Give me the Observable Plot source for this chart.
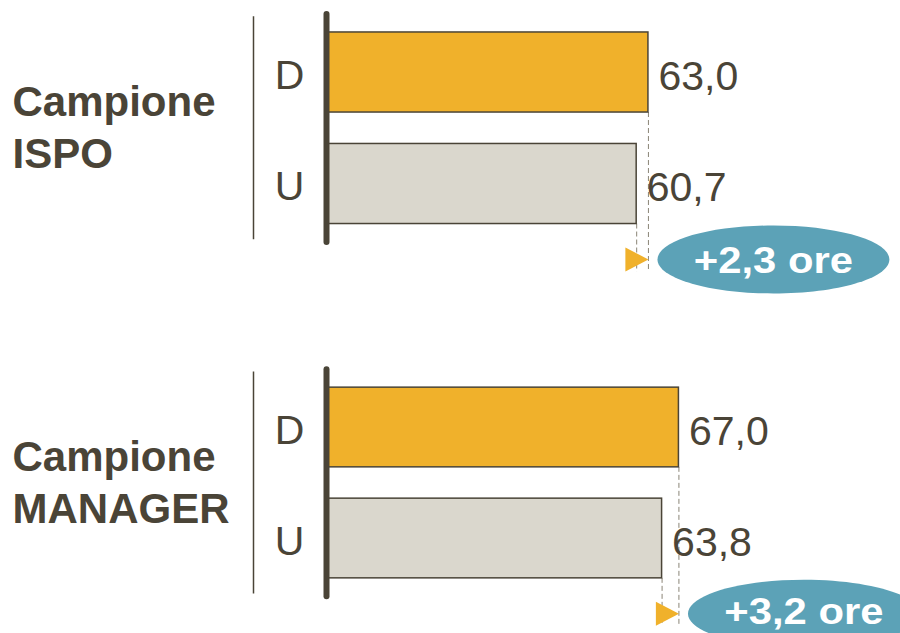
<!DOCTYPE html>
<html>
<head>
<meta charset="utf-8">
<script src="https://cdn.jsdelivr.net/npm/d3@7"></script>
<script src="https://cdn.jsdelivr.net/npm/@observablehq/plot@0.6"></script>
<style>
  html, body { margin: 0; padding: 0; background: #ffffff; overflow: hidden; }
  #chart { width: 900px; height: 633px; overflow: hidden; position: relative; }
  #chart svg { display: block; }
</style>
</head>
<body>
<div id="chart"></div>
<script>
// Weekly working hours by gender (D = donne, U = uomini) in two samples
const samples = ["ISPO", "MANAGER"];
const groups = ["D", "U"];
const ispoHours = [63.0, 60.7];
const managerHours = [67.0, 63.8];

const ink = "#4a4437";
const orange = "#f0b12b";
const stone = "#dad7cd";
const teal = "#5ca2b7";
const font = "'Liberation Sans', Arial, Helvetica, sans-serif";

const fmt = v => d3.format(".1f")(v).replace(".", ",");

// Right-pointing triangle with its tip at the anchor point
const triangleRight = {
  draw(ctx, size) {
    const r = Math.sqrt(size / Math.PI);
    ctx.moveTo(0, 0);
    ctx.lineTo(-1.92 * r, -r);
    ctx.lineTo(-1.92 * r, r);
    ctx.closePath();
  }
};

// Wide ellipse (badge) built from four cubic curves
const badge = {
  draw(ctx, size) {
    const ry = Math.sqrt(size / Math.PI), rx = 3.41 * ry, k = 0.5523;
    ctx.moveTo(-rx, 0);
    ctx.bezierCurveTo(-rx, -k * ry, -k * rx, -ry, 0, -ry);
    ctx.bezierCurveTo(k * rx, -ry, rx, -k * ry, rx, 0);
    ctx.bezierCurveTo(rx, k * ry, k * rx, ry, 0, ry);
    ctx.bezierCurveTo(-k * rx, ry, -rx, k * ry, -rx, 0);
    ctx.closePath();
  }
};

const half = 0.359;      // half bar thickness, in row units
const noteRow = 1.677;   // row of the gap badge

function panel(name, hours, xEnd, yRange, height, noteDy) {
  const rows = groups.map((g, i) => ({group: g, row: i, value: hours[i]}));
  const gap = hours[0] - hours[1];
  const note = [{value: hours[0], label: "+" + fmt(gap) + " ore"}];

  const svg = Plot.plot({
    width: 900,
    height,
    margin: 0,
    style: {fontFamily: font, background: "white", overflow: "hidden"},
    x: {domain: [0, 100], range: [326, xEnd], axis: null},
    y: {type: "linear", domain: [0, 1], range: yRange, axis: null},
    color: {domain: groups, range: [orange, stone]},
    marks: [
      // dashed guides from each bar end down to the badge row
      Plot.ruleX(rows, {x: "value", y1: d => d.row + half, y2: 1.79,
        stroke: "#8a8476", strokeWidth: 1, strokeDasharray: "5,3"}),
      Plot.rect(rows, {x1: 0, x2: "value", y1: d => d.row - half, y2: d => d.row + half,
        fill: "group", stroke: ink, strokeWidth: 1.5}),
      // bar baseline
      Plot.ruleX([0], {y1: -0.52, y2: 1.525, stroke: ink, strokeWidth: 6, strokeLinecap: "round"}),
      // separator between sample title and group labels
      Plot.ruleX([0], {dx: -73, y1: -0.5, y2: 1.5, stroke: ink, strokeWidth: 1.5}),
      Plot.text(rows, {x: 0, y: "row", text: "group", dx: -37, dy: 3,
        textAnchor: "middle", fontSize: 41, fill: ink}),
      Plot.text(rows, {x: "value", y: "row", text: d => fmt(d.value), dx: 10, dy: 4,
        textAnchor: "start", fontSize: 41, fill: ink}),
      Plot.text([name], {x: 0, y: 0.5, text: d => "Campione\n" + d, dx: -314, dy: -3,
        textAnchor: "start", fontSize: 42, fontWeight: "bold", lineHeight: 1.24, fill: ink}),
      Plot.dot(note, {x: "value", y: noteRow, symbol: triangleRight, r: 12,
        fill: orange, stroke: "none"}),
      Plot.dot(note, {x: "value", y: noteRow, dx: 125, symbol: badge, r: 34,
        fill: teal, stroke: "none"}),
      Plot.text(note, {x: "value", y: noteRow, dx: 125, dy: noteDy, text: "label",
        fontSize: 37, fontWeight: "bold", fill: "white"})
    ]
  });

  // widen the badge lettering
  d3.select(svg).selectAll("g[fill='white'] text").each(function () {
    const t = this.getAttribute("transform") || "";
    this.setAttribute("transform", t + " scale(1.13,1)");
  });
  return svg;
}

const chart = document.getElementById("chart");
chart.appendChild(panel(samples[0], ispoHours, 837, [72, 183.5], 316, 2));
chart.appendChild(panel(samples[1], managerHours, 852, [111, 222], 317, -1));
</script>
</body>
</html>
